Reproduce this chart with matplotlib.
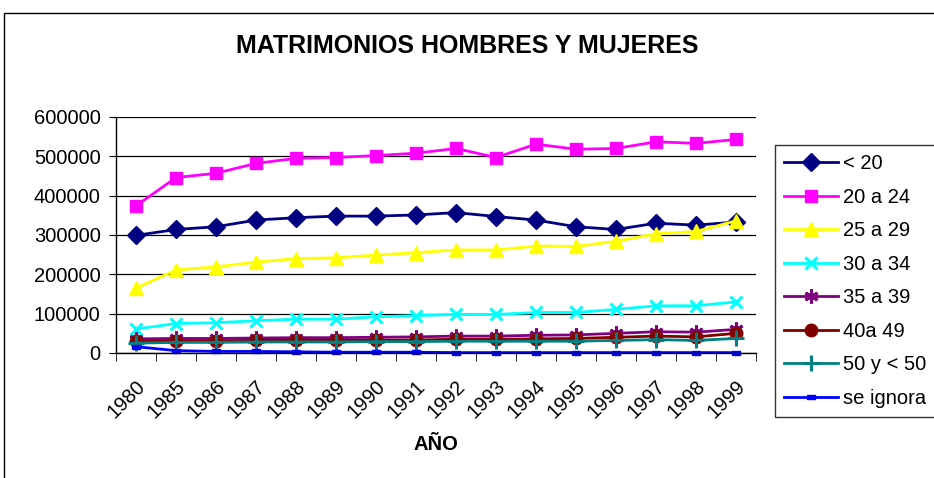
import matplotlib
matplotlib.use("Agg")
import matplotlib.pyplot as plt
from matplotlib.patches import Rectangle

plt.rcParams["font.family"] = ["Liberation Sans", "DejaVu Sans"]

years = ["1980", "1985", "1986", "1987", "1988", "1989", "1990", "1991",
         "1992", "1993", "1994", "1995", "1996", "1997", "1998", "1999"]

menor_20 = [299000, 314000, 321000, 338000, 344000, 348000, 348000, 351000,
            357000, 347000, 338000, 321000, 314000, 330000, 325000, 333000]
de_20_24 = [374000, 446000, 457000, 482000, 495000, 497000, 502000, 508000,
            520000, 497000, 531000, 518000, 520000, 537000, 533000, 543000]
de_25_29 = [165000, 211000, 219000, 231000, 240000, 242000, 249000, 255000,
            262000, 262000, 272000, 271000, 284000, 303000, 309000, 336000]
de_30_34 = [61000, 75000, 77000, 82000, 86000, 86000, 92000, 95000,
            98000, 98000, 103000, 103000, 111000, 120000, 120000, 130000]
de_35_39 = [36000, 37000, 37000, 38000, 39000, 39000, 40000, 41000,
            43000, 43000, 45000, 46000, 50000, 54000, 53000, 60000]
de_40_49 = [30000, 31000, 31000, 32000, 33000, 32000, 33000, 33000,
            35000, 35000, 36000, 37000, 40000, 43000, 41000, 50000]
de_50 = [25000, 27000, 27000, 28000, 28000, 28000, 29000, 29000,
         30000, 30000, 30000, 30000, 32000, 34000, 32000, 37000]
se_ignora = [16000, 6000, 4000, 4000, 3000, 2000, 2000, 2000,
             1000, 1000, 1000, 1000, 1000, 1000, 1000, 1000]

dash = [(-1, -0.45), (1, -0.45), (1, 0.45), (-1, 0.45), (-1, -0.45)]

series = [
    ("< 20", menor_20, "#000080", "D", 9),
    ("20 a 24", de_20_24, "#FF00FF", "s", 9),
    ("25 a 29", de_25_29, "#FFFF00", "^", 10),
    ("30 a 34", de_30_34, "#00FFFF", "x", 9),
    ("35 a 39", de_35_39, "#800080", (6, 2, 0), 10),
    ("40a 49", de_40_49, "#800000", "o", 9),
    ("50 y < 50", de_50, "#008080", "+", 11),
    ("se ignora", se_ignora, "#0000FF", dash, 6),
]

fig = plt.figure(figsize=(9.34, 4.78), dpi=100)
ax = fig.add_axes([116 / 934, 125 / 478, 640 / 934, 236 / 478])

x = list(range(len(years)))
for name, vals, col, mk, ms in series:
    ax.plot(x, vals, color=col, lw=2, marker=mk, ms=ms, mfc=col, mec=col,
            mew=2.2 if mk in ("x", "+") or isinstance(mk, tuple) else 1,
            label=name, clip_on=False)

ax.set_xlim(-0.5, len(years) - 0.5)
ax.set_ylim(0, 600000)
ax.set_yticks(range(0, 600001, 100000))
ax.set_yticklabels([str(v) for v in range(0, 600001, 100000)], fontsize=14.5)
ax.yaxis.grid(True, color="black", lw=0.9)
ax.set_axisbelow(True)

ax.set_xticks(x)
ax.set_xticklabels(years, rotation=45, ha="right", rotation_mode="anchor",
                   fontsize=14.5)
ax.tick_params(axis="x", which="major", length=0, pad=17)
ax.set_xticks([i - 0.5 for i in range(len(years) + 1)], minor=True)
ax.tick_params(axis="x", which="minor", length=6, direction="out", color="black")
ax.tick_params(axis="y", length=5, direction="out", color="black", pad=6)

for s in ("top", "right"):
    ax.spines[s].set_visible(False)
for s in ("left", "bottom"):
    ax.spines[s].set_color("black")
    ax.spines[s].set_linewidth(1)

fig.text(436 / 934, 1 - 445 / 478, "AÑO", fontsize=14.5, fontweight="bold",
         ha="center", va="center")
fig.text(467 / 934, 1 - 46 / 478, "MATRIMONIOS HOMBRES Y MUJERES", fontsize=18,
         fontweight="bold", ha="center", va="center")

leg = ax.legend(loc="upper left", bbox_to_anchor=(775 / 934, 1 - 145 / 478),
                bbox_transform=fig.transFigure, fontsize=14.5, frameon=True,
                fancybox=False, edgecolor="black", handlelength=2.7,
                labelspacing=0.72, borderpad=0.45, handletextpad=0.25,
                borderaxespad=0)
leg.get_frame().set_linewidth(1)

fig.patches.append(Rectangle((4 / 934, -0.1), 1.2, 1 - 13 / 478 + 0.1,
                             transform=fig.transFigure, fill=False,
                             edgecolor="black", lw=1))

fig.savefig("out.png", dpi=100)
